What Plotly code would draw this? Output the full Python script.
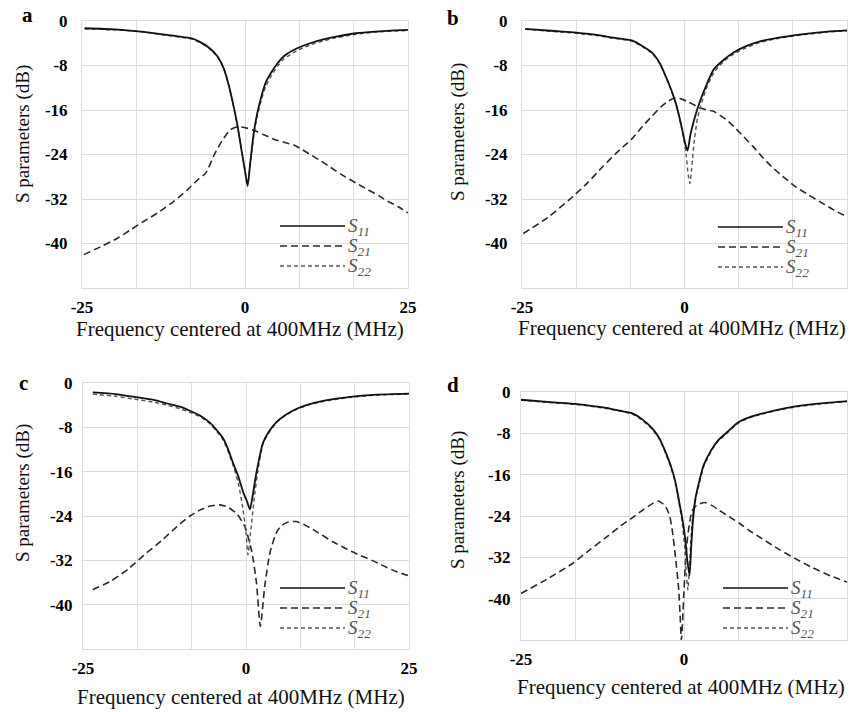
import plotly.graph_objects as go

# ---------------- data ----------------
# Panel a
a_s11_x = [-24.6, -20, -16, -12, -10, -8.3, -7, -5.5, -4.2, -3.2, -2.5, -1.9, -1.2, -0.5, 0.0, 0.4, 0.8, 1.3, 1.8, 2.5, 3.2, 4.0, 5.0, 6.0, 8.0, 10, 12, 14, 17, 20, 25]
a_s11_y = [-1.3, -1.5, -1.9, -2.5, -2.8, -3.1, -3.7, -4.8, -6.4, -8.7, -11.5, -14.5, -18.5, -23.5, -27.0, -29.7, -25.5, -20.5, -17.0, -13.6, -11.0, -9.3, -7.6, -6.3, -4.9, -4.0, -3.3, -2.8, -2.2, -1.9, -1.6]
a_s22_x = a_s11_x
a_s22_y = [-1.4, -1.6, -1.9, -2.6, -2.9, -3.2, -3.8, -4.9, -6.5, -8.8, -11.6, -14.6, -18.6, -23.3, -26.8, -29.2, -25.8, -21.0, -17.6, -14.2, -11.7, -9.9, -8.1, -6.8, -5.3, -4.3, -3.6, -3.0, -2.4, -2.0, -1.7]
a_s21_x = [-24.7, -22, -19.5, -17.5, -15.5, -13.4, -11.0, -8.8, -7.3, -6.0, -4.7, -3.5, -2.3, -1.1, 0.4, 1.9, 3.0, 4.5, 6.0, 7.5, 8.6, 10, 11.7, 13.5, 15.2, 17, 18.8, 20.5, 21.9, 23.5, 25]
a_s21_y = [-42.0, -40.5, -39.0, -37.5, -36.0, -34.5, -32.5, -30.3, -28.6, -27.3, -24.0, -21.5, -19.6, -19.0, -19.3, -19.9, -20.5, -21.3, -21.8, -22.3, -23.0, -24.0, -25.2, -26.6, -27.9, -29.1, -30.3, -31.4, -32.4, -33.4, -34.5]

# Panel b
b_s11_x = [-24.5, -20, -16.7, -13, -11, -8.1, -6.5, -5.0, -3.8, -2.9, -2.0, -1.36, -0.8, -0.3, 0.1, 0.47, 0.9, 1.5, 2.3, 3.3, 4.5, 6.0, 7.5, 9.3, 11.5, 14.5, 18, 22, 26]
b_s11_y = [-1.4, -1.8, -2.1, -2.6, -3.0, -3.5, -4.5, -5.7, -7.6, -9.9, -12.5, -14.7, -17.2, -19.8, -22.0, -23.3, -20.5, -17.7, -14.7, -11.7, -8.7, -7.0, -5.7, -4.6, -3.7, -3.0, -2.4, -1.9, -1.6]
b_s22_x = [-24.5, -20, -16.7, -13, -11, -8.1, -6.5, -5.0, -3.8, -2.9, -2.0, -1.36, -0.8, -0.3, 0.2, 0.55, 0.83, 1.1, 1.5, 2.0, 2.5, 3.3, 4.5, 6.0, 7.5, 9.3, 11.5, 14.5, 18, 22, 26]
b_s22_y = [-1.5, -1.9, -2.2, -2.7, -3.1, -3.6, -4.6, -5.8, -7.7, -10.0, -12.6, -14.8, -17.4, -20.0, -23.5, -27.5, -29.2, -26.5, -21.5, -17.5, -15.3, -12.3, -9.3, -7.3, -6.0, -4.9, -3.9, -3.1, -2.5, -2.0, -1.7]
b_s21_x = [-24.8, -21, -17.8, -15, -12.6, -10, -8.1, -6.5, -5.0, -3.5, -2.5, -1.4, -0.5, 0.5, 1.5, 2.3, 3.5, 4.4, 5.5, 6.5, 7.8, 9.1, 10.5, 12, 13.5, 15.5, 17.1, 19, 21, 23, 26]
b_s21_y = [-38.2, -35.3, -32.2, -29.2, -26.2, -23.2, -21.2, -19.0, -17.1, -15.3, -14.4, -13.8, -14.0, -14.5, -15.1, -15.6, -16.0, -16.2, -17.0, -17.8, -19.2, -20.8, -22.5, -24.5, -26.3, -28.3, -29.8, -31.2, -32.6, -34.0, -35.8]

# Panel c
c_s11_x = [-23.5, -20, -17.2, -14, -12.1, -10, -8.6, -7, -5.5, -4.5, -3.5, -2.8, -2.0, -1.2, -0.4, 0.2, 0.6, 1.0, 1.6, 2.6, 3.5, 4.7, 6.0, 7.7, 9.5, 12, 16, 20, 25.2]
c_s11_y = [-1.7, -2.0, -2.5, -3.1, -3.7, -4.3, -5.0, -5.9, -7.2, -8.5, -10.0, -11.8, -14.4, -16.8, -19.8, -21.5, -22.8, -20.5, -16.2, -10.8, -8.8, -7.0, -5.8, -4.7, -3.9, -3.2, -2.5, -2.1, -1.9]
c_s22_x = [-23.5, -20, -17.2, -14, -12.1, -10, -8.6, -7, -5.5, -4.5, -3.5, -2.8, -2.0, -1.2, -0.5, 0.0, 0.3, 0.7, 1.2, 1.8, 2.6, 3.5, 4.7, 6.0, 7.7, 9.5, 12, 16, 20, 25.2]
c_s22_y = [-2.0, -2.4, -2.9, -3.5, -4.0, -4.7, -5.3, -6.1, -7.4, -8.7, -10.3, -12.2, -14.8, -18.0, -22.5, -27.0, -31.0, -27.0, -21.5, -16.0, -11.0, -9.0, -7.1, -5.9, -4.8, -4.0, -3.3, -2.6, -2.2, -2.0]
c_s21_x = [-23.5, -20.8, -18, -15.7, -13, -10.6, -8.6, -7, -5.5, -4.0, -2.8, -1.4, -0.15, 0.9, 1.6, 2.2, 2.9, 3.7, 4.7, 5.5, 6.5, 7.7, 9.0, 10.5, 13.4, 15.5, 17.5, 19.5, 21.1, 23, 25.2]
c_s21_y = [-37.3, -35.8, -33.5, -31.1, -28.5, -25.9, -24.0, -22.9, -22.2, -22.0, -22.4, -23.6, -26.0, -30.5, -36.0, -43.9, -36.4, -30.5, -26.9, -25.7, -25.1, -25.0, -25.6, -26.6, -28.7, -30.0, -31.1, -32.1, -33.0, -34.0, -34.9]

# Panel d
d_s11_x = [-25, -20, -16.6, -13, -11.4, -9.5, -8.0, -6.5, -4.9, -3.8, -2.9, -2.1, -1.3, -0.7, -0.3, 0.2, 0.5, 0.85, 1.1, 1.4, 1.8, 2.3, 3.0, 4.2, 5.2, 6.4, 8.4, 10, 11.9, 14.5, 17.1, 21, 25.6]
d_s11_y = [-1.5, -2.0, -2.3, -2.9, -3.2, -3.7, -4.1, -5.2, -7.0, -8.9, -11.4, -14.0, -17.5, -21.5, -24.2, -28.5, -32.5, -35.5, -30.0, -24.5, -20.3, -17.5, -14.2, -11.2, -9.4, -8.0, -5.8, -4.9, -4.2, -3.4, -2.8, -2.2, -1.7]
d_s22_x = [-25, -20, -16.6, -13, -11.4, -9.5, -8.0, -6.5, -4.9, -3.8, -2.9, -2.1, -1.3, -0.7, -0.3, 0.1, 0.35, 0.6, 0.9, 1.2, 1.6, 2.3, 3.0, 4.2, 5.2, 6.4, 8.4, 10, 11.9, 14.5, 17.1, 21, 25.6]
d_s22_y = [-1.6, -2.1, -2.4, -3.0, -3.3, -3.8, -4.2, -5.4, -7.2, -9.1, -11.6, -14.3, -17.8, -22.0, -25.0, -30.0, -35.0, -38.3, -32.0, -26.0, -21.5, -18.0, -14.5, -11.4, -9.6, -8.2, -6.0, -5.0, -4.3, -3.5, -2.9, -2.3, -1.8]
d_s21_x = [-25, -21, -17.1, -14.5, -11.9, -9.8, -8.0, -6.5, -5.2, -4.0, -2.9, -2.2, -1.8, -1.3, -0.8, -0.55, -0.4, -0.2, -0.05, 0.2, 0.5, 0.8, 1.2, 1.7, 2.3, 3.2, 4.2, 5.4, 7.0, 8.5, 10, 12, 14.5, 17, 19.7, 22.5, 25.7]
d_s21_y = [-39.0, -36.2, -33.2, -30.6, -28.1, -26.0, -24.4, -23.0, -21.9, -21.1, -22.0, -24.0, -26.8, -32.0, -38.4, -44.5, -48.0, -44.0, -39.7, -33.5, -28.7, -25.8, -23.2, -22.2, -21.7, -21.4, -21.9, -22.9, -24.2, -25.4, -26.8, -28.4, -30.4, -32.2, -34.0, -35.6, -37.1]

series_names = ["S11", "S21", "S22"]
legend_labels = ["<i>S</i><sub><i>11</i></sub>", "<i>S</i><sub><i>21</i></sub>", "<i>S</i><sub><i>22</i></sub>"]
panel_letters = ["a", "b", "c", "d"]
x_tick_vals = [-25, 0, 25]
y_tick_vals = [0, -8, -16, -24, -32, -40]
x_title = "Frequency centered at 400MHz (MHz)"
y_title = "S parameters (dB)"

panels = [
    (a_s11_x, a_s11_y, a_s21_x, a_s21_y, a_s22_x, a_s22_y),
    (b_s11_x, b_s11_y, b_s21_x, b_s21_y, b_s22_x, b_s22_y),
    (c_s11_x, c_s11_y, c_s21_x, c_s21_y, c_s22_x, c_s22_y),
    (d_s11_x, d_s11_y, d_s21_x, d_s21_y, d_s22_x, d_s22_y),
]

# ---------------- layout geometry (pixels in 851x712) ----------------
W, H = 851, 712
boxes = [(82, 408, 21, 288), (522, 847, 21, 288), (83, 409, 383, 649), (521, 847, 392, 640)]
xtitle_pos = [(240, 329), (682, 328), (241, 697), (681, 687)]
ytitle_pos = [(23, 134), (458, 132), (23, 493), (458, 500)]
letter_pos = [(27, 15), (453, 18), (23, 383), (453, 385)]
legend_line = [(280, 345, 226), (718, 783, 227), (280, 345, 588), (723, 788, 588)]
ystand = [10, 10, 6, 6]

SERIF = "Liberation Serif"
styles = [
    dict(color="#111111", width=1.8, dash="solid"),
    dict(color="#2a2a2a", width=1.6, dash="7px,4px"),
    dict(color="#555555", width=1.4, dash="4px,3px"),
]

def px2fx(x):
    return x / W

def py2fy(y):
    return 1 - y / H

fig = go.Figure()
layout = dict(width=W, height=H, margin=dict(l=0, r=0, t=0, b=0, autoexpand=False),
              paper_bgcolor="white", plot_bgcolor="white", showlegend=False,
              font=dict(family=SERIF, size=17))
annotations = []
shapes = []

for i, data in enumerate(panels):
    k = "" if i == 0 else str(i + 1)
    l, r, t, b = boxes[i]
    xs = [data[0], data[2], data[4]]
    ys = [data[1], data[3], data[5]]
    for j in [1, 2, 0]:
        fig.add_trace(go.Scatter(
            x=xs[j], y=ys[j], mode="lines", name=series_names[j],
            line=dict(color=styles[j]["color"], width=styles[j]["width"],
                      dash=styles[j]["dash"], shape="spline", smoothing=0.6),
            xaxis="x" + k, yaxis="y" + k))
    layout["xaxis" + k] = dict(
        domain=[px2fx(l), px2fx(r)], range=[-25, 25], anchor="y" + k, automargin=False,
        tickvals=x_tick_vals, ticktext=["<b>%d</b>" % v for v in x_tick_vals],
        showgrid=True, gridcolor="#dddddd", gridwidth=1, zeroline=False,
        minor=dict(dtick=25 / 3, tick0=-25, showgrid=True, gridcolor="#dddddd", gridwidth=1),
        showline=True, linecolor="#dddddd", linewidth=1, mirror=True,
        ticks="", ticklen=0, ticklabelstandoff=4,
        tickfont=dict(family=SERIF, size=17, color="black"))
    layout["yaxis" + k] = dict(
        domain=[py2fy(b), py2fy(t)], range=[-48, 0], anchor="x" + k, automargin=False,
        tickvals=y_tick_vals, ticktext=["<b>%d</b>" % v for v in y_tick_vals],
        showgrid=True, gridcolor="#dddddd", gridwidth=1, zeroline=False,
        showline=True, linecolor="#dddddd", linewidth=1, mirror=True,
        ticks="", ticklen=0, ticklabelstandoff=ystand[i],
        tickfont=dict(family=SERIF, size=17, color="black"))
    annotations.append(dict(text=x_title, x=px2fx(xtitle_pos[i][0]), y=py2fy(xtitle_pos[i][1]),
                            xref="paper", yref="paper", xanchor="center", yanchor="middle",
                            showarrow=False, font=dict(family=SERIF, size=21, color="#111111")))
    annotations.append(dict(text=y_title, x=px2fx(ytitle_pos[i][0]), y=py2fy(ytitle_pos[i][1]),
                            xref="paper", yref="paper", xanchor="center", yanchor="middle",
                            textangle=-90, showarrow=False,
                            font=dict(family=SERIF, size=19, color="#111111")))
    annotations.append(dict(text="<b>" + panel_letters[i] + "</b>",
                            x=px2fx(letter_pos[i][0]), y=py2fy(letter_pos[i][1]),
                            xref="paper", yref="paper", xanchor="center", yanchor="middle",
                            showarrow=False, font=dict(family=SERIF, size=21, color="black")))
    lx0, lx1, ly = legend_line[i]
    for j in range(3):
        yy = ly + 20 * j
        shapes.append(dict(type="line", xref="paper", yref="paper",
                           x0=px2fx(lx0), x1=px2fx(lx1), y0=py2fy(yy), y1=py2fy(yy),
                           line=dict(color=styles[j]["color"], width=1.5, dash=styles[j]["dash"])))
        annotations.append(dict(text=legend_labels[j], x=px2fx(lx1 + 1), y=py2fy(yy + 1),
                                xref="paper", yref="paper", xanchor="left", yanchor="middle",
                                showarrow=False, font=dict(family=SERIF, size=19, color="#555555")))

layout["annotations"] = annotations
layout["shapes"] = shapes
fig.update_layout(**layout)
fig.write_html("out.html", config={"displayModeBar": False},
               post_script="document.body.style.margin='0px';document.body.style.overflow='hidden';")
